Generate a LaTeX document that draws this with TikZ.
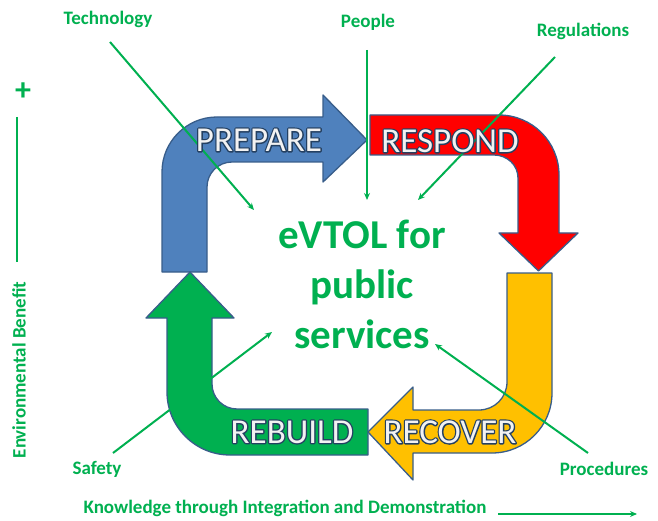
\documentclass[tikz,border=0pt]{standalone}
\usepackage{fontspec}
\setmainfont{Carlito}
\usetikzlibrary{arrows.meta}
\definecolor{gr}{HTML}{00B050}
\definecolor{bfill}{HTML}{4F81BD}
\definecolor{edge}{HTML}{385D8A}
\definecolor{rfill}{HTML}{FF0000}
\definecolor{yfill}{HTML}{FFC000}
\definecolor{gfill}{HTML}{00B050}
\definecolor{outl}{HTML}{243F60}
\definecolor{cream}{HTML}{F2F2F2}
\newcommand{\outlined}[1]{\rlap{\color{outl}\special{pdf:literal direct 0.14 0.25 0.38 RG 2.6 w 1 j 2 Tr}#1\special{pdf:literal direct 0 Tr}}{\color{cream}#1}}
\begin{document}
\begin{tikzpicture}[x=1pt,y=-1pt,
  shapeline/.style={draw=edge,line width=1.3pt,line join=round},
  stagetext/.style={inner sep=0pt,font=\fontsize{35}{40}\selectfont},
  lbl/.style={text=gr,inner sep=0pt,font=\fontsize{19}{22}\selectfont\bfseries},
  centre/.style={text=gr,align=center,inner sep=0pt,font=\fontsize{41}{50}\selectfont\bfseries},
  conn/.style={draw=gr,line width=2pt,-{Stealth[length=7pt,width=6pt]}},
  plain/.style={draw=gr,line width=2pt}]
\useasboundingbox (0,0) rectangle (658,521);
% PREPARE (blue)
\draw[shapeline,fill=bfill] (162,272) -- (162,172) .. controls (162,141.6) and (186.6,117) .. (217,117)
  -- (323,117) -- (323,95) -- (367,140) -- (323,182) -- (323,162) -- (232,162)
  .. controls (218.2,162) and (207,173.2) .. (207,187) -- (207,272) -- cycle;
% RESPOND (red)
\draw[shapeline,fill=rfill] (370,115) -- (499,115) .. controls (532.1,115) and (559,141.9) .. (559,175)
  -- (559,233) -- (578,233) -- (538.5,271) -- (499,233) -- (518,233) -- (518,178)
  .. controls (518,165) and (507,155) .. (494,155) -- (370,155) -- cycle;
% RECOVER (yellow)
\draw[shapeline,fill=yfill] (507,273) -- (552,273) -- (552,393) .. controls (552,426.1) and (525.1,453) .. (492,453)
  -- (413,453) -- (413,480) -- (368,432) -- (413,387) -- (413,410) -- (479,410)
  .. controls (494.5,410) and (507,397.5) .. (507,382) -- cycle;
% REBUILD (green)
\draw[shapeline,fill=gfill] (368,409) -- (368,455) -- (230,455) .. controls (195.2,455) and (167,426.8) .. (167,392)
  -- (167,318) -- (146,318) -- (190,272) -- (234,318) -- (212,318) -- (212,384)
  .. controls (212,397.8) and (223.2,409) .. (237,409) -- cycle;
% centre
\node[centre] (ctr) at (362,284) {eVTOL for\\public\\services};
% labels
\node[lbl] (tech) at (108,19) {Technology};
\node[lbl] (peop) at (368,22) {People};
\node[lbl] (regu) at (583,31) {Regulations};
\node[lbl] (safe) at (97,469) {Safety};
\node[lbl] (proc) at (604,469) {Procedures};
\node[lbl] (know) at (285,508) {Knowledge through Integration and Demonstration};
\node[lbl,rotate=90] (env) at (19,370) {Environmental Benefit};
\node[text=gr,inner sep=0pt,font=\fontsize{32}{32}\selectfont\bfseries] (plus) at (23,92) {+};
% connector coordinates
\coordinate (t1) at (110,42); \coordinate (t2) at (254,210);
\coordinate (p1) at (367,50); \coordinate (p2) at (367,200);
\coordinate (r1) at (555,57); \coordinate (r2) at (418,200);
\coordinate (s1) at (113,453); \coordinate (s2) at (272,332);
\coordinate (q1) at (588,453); \coordinate (q2) at (435,344);
\coordinate (k1) at (498,514); \coordinate (k2) at (637,514);
\coordinate (e1) at (17,117); \coordinate (e2) at (17,262);
\draw[conn] (t1) -- (t2);
\draw[conn] (p1) -- (p2);
\draw[conn] (r1) -- (r2);
\draw[conn] (s1) -- (s2);
\draw[conn] (q1) -- (q2);
\draw[conn] (k1) -- (k2);
\draw[plain] (e1) -- (e2);
% stage texts (on top of the connectors)
\node[stagetext] (prep) at (259,140) {\outlined{PREPARE}};
\node[stagetext] (resp) at (450,141) {\outlined{RESPOND}};
\node[stagetext] (reco) at (450,432) {\outlined{RECOVER}};
\node[stagetext] (rebu) at (292,432) {\outlined{REBUILD}};
\end{tikzpicture}
\end{document}
